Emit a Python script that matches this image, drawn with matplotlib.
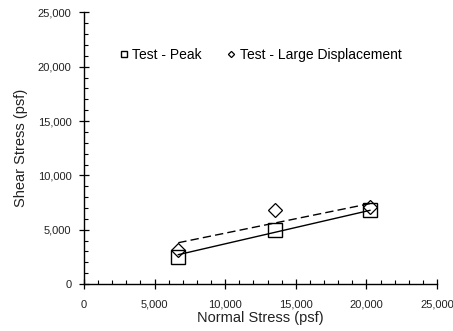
import matplotlib.pyplot as plt
from matplotlib.ticker import MultipleLocator, FuncFormatter

plt.rcParams['font.family'] = ['Liberation Sans', 'DejaVu Sans']

# datos
normal_peak = [6680, 13510, 20250]
shear_peak = [2490, 4930, 6840]
normal_large = [6680, 13510, 20250]
shear_large = [3150, 6800, 7100]

# lineas de tendencia (extremos)
fit_peak_x = [6680, 20250]
fit_peak_y = [2700, 6780]
fit_large_x = [6680, 20250]
fit_large_y = [3800, 7400]

fig = plt.figure(figsize=(4.53, 3.31), dpi=100)
ax = fig.add_axes([0.1854, 0.142, 0.7793, 0.8205])

ax.plot(fit_peak_x, fit_peak_y, color="black", lw=1.0)
ax.plot(fit_large_x, fit_large_y, color="black", lw=1.0, ls=(0, (6, 3)))

ax.plot(normal_peak, shear_peak, ls="none", marker="s", ms=9.5,
        mfc="none", mec="black", mew=1.0, label="Test - Peak")
ax.plot(normal_large, shear_large, ls="none", marker="D", ms=7,
        mfc="none", mec="black", mew=0.9, label="Test - Large Displacement")

ax.set_xlim(0, 25000)
ax.set_ylim(0, 25000)

fmt = FuncFormatter(lambda v, p: f"{int(v):,}")
for axis in (ax.xaxis, ax.yaxis):
    axis.set_major_locator(MultipleLocator(5000))
    axis.set_minor_locator(MultipleLocator(1000))
    axis.set_major_formatter(fmt)

ax.tick_params(which="major", direction="inout", length=7, width=0.9,
               labelsize=8, colors="black", labelcolor="#222222")
ax.tick_params(which="minor", direction="in", length=3, width=0.8)
ax.tick_params(axis="x", pad=8)
ax.tick_params(axis="y", pad=5.5)

for s in ("top", "right"):
    ax.spines[s].set_visible(False)
for s in ("left", "bottom"):
    ax.spines[s].set_linewidth(1.0)

ax.set_xlabel("Normal Stress (psf)", fontsize=10.5, color="#222222", labelpad=1)
ax.set_ylabel("Shear Stress (psf)", fontsize=10.5, color="#222222", labelpad=7)

ax.legend(loc="center left", bbox_to_anchor=(0.086, 0.842), ncol=2, frameon=False,
          fontsize=10, markerscale=0.45, handlelength=0.6, handletextpad=0.3,
          columnspacing=1.8, borderaxespad=0)

fig.savefig("out.png", dpi=100)
